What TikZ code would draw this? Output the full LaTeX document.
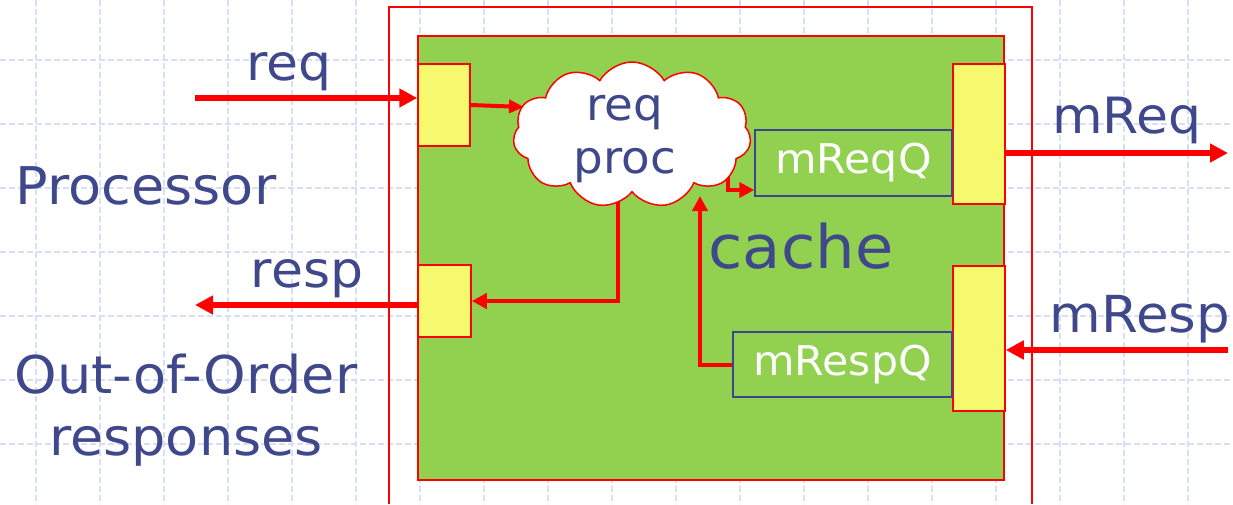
\documentclass[tikz,border=0pt]{standalone}
\usepackage{fontspec}
\setmainfont{DejaVu Sans}[FakeStretch=1.04]
\usetikzlibrary{shapes.symbols,arrows.meta}

\pgfdeclarelayer{back}
\pgfdeclarelayer{wires}
\pgfsetlayers{back,wires,main}

\definecolor{labelblue}{RGB}{64,72,140}
\definecolor{gridblue}{RGB}{214,222,248}
\definecolor{cachegreen}{RGB}{146,208,80}
\definecolor{portyellow}{RGB}{246,248,110}
\definecolor{qborder}{RGB}{60,70,140}

\tikzset{
  gridline/.style={gridblue, line width=1.1pt, dash pattern=on 6pt off 3pt},
  cachebox/.style={draw=red, fill=cachegreen, line width=1.5pt, inner sep=0pt},
  port/.style={draw=red, fill=portyellow, line width=1.5pt, inner sep=0pt},
  queue/.style={draw=qborder, line width=1.5pt, inner sep=0pt, text=white,
    font=\fontsize{41}{49}\selectfont},
  proccloud/.style={cloud, cloud puffs=11, cloud puff arc=120, aspect=1.63,
    draw=red, fill=white, line width=1.5pt, inner sep=0pt},
  cloudtext/.style={align=center, inner sep=0pt, text=labelblue,
    font=\fontsize{45}{53}\selectfont},
  lbl/.style={text=labelblue, anchor=base, inner sep=0pt,
    font=\fontsize{50}{60}\selectfont},
  biglbl/.style={lbl, font=\fontsize{52}{62}\selectfont},
  bigarrow/.style={red, line width=5.5pt, -{Triangle[length=18pt,width=18pt]}},
  midarrow/.style={red, line width=4pt, -{Triangle[length=15pt,width=15pt]}},
}

\begin{document}
\begin{tikzpicture}[x=1pt,y=-1pt]
\useasboundingbox (0,0) rectangle (1233,504);

\begin{pgfonlayer}{back}
\fill[white] (0,0) rectangle (1233,504);
% background grid
\foreach \gx in {36,100,...,1188} \draw[gridline] (\gx,0) -- (\gx,504);
\foreach \gy in {60,124,...,444} \draw[gridline] (0,\gy) -- (1233,\gy);
% outer frame (open at the bottom edge)
\draw[red, line width=1.5pt] (389,504) -- (389,7) -- (1032,7) -- (1032,504);
% cache block
\node[cachebox, minimum width=586pt, minimum height=444pt] (cache) at (711,258) {};
\end{pgfonlayer}

\node[lbl, font=\fontsize{60}{72}\selectfont] (cachelbl) at (801,268) {cache};

% ports
\node[port, minimum width=52pt, minimum height=82pt]  (reqport)   at (444,105) {};
\node[port, minimum width=53pt, minimum height=72pt]  (respport)  at (444.5,301) {};
\node[port, minimum width=52pt, minimum height=140pt] (mreqport)  at (979,134) {};
\node[port, minimum width=52pt, minimum height=145pt] (mrespport) at (979,338.5) {};

% queues
\node[queue, minimum width=197pt, minimum height=66pt] (mreqq)  at (853.5,163) {mReqQ};
\node[queue, minimum width=219pt, minimum height=65pt] (mrespq) at (842.5,364.5) {mRespQ};

% request processing
\node[proccloud, minimum width=238pt, minimum height=146pt] (proc) at (632,135) {};
\node[cloudtext] (proctext) at (625,139) {req\\proc};

% outside endpoints
\coordinate (reqin)   at (195,98);
\coordinate (respout) at (195,305);
\coordinate (mreqout) at (1228,153);
\coordinate (mrespin) at (1228,350);

% external connections
\draw[bigarrow] (reqin) -- (reqport.west |- reqin);
\draw[bigarrow] (respport.west |- respout) -- (respout);
\draw[bigarrow] (mreqport.east |- mreqout) -- (mreqout);
\draw[bigarrow] (mrespin) -- (mrespport.east |- mrespin);

% internal connections into the cloud
\draw[red, line width=4pt, -{Triangle[length=15pt,width=13pt]}]
  (reqport.east) -- ([shift={(-108,-28)}]proc.center);
\draw[midarrow] (mrespq.west) -| ([shift={(68,61)}]proc.center);

% connections leaving the cloud start underneath its outline
\begin{pgfonlayer}{wires}
\draw[midarrow] ([shift={(96,25)}]proc.center) |- ([yshift=-27pt]mreqq.west);
\draw[midarrow] ([shift={(-14,63)}]proc.center) |- (respport.east);
\end{pgfonlayer}

% labels
\node[lbl] (reqlbl)   at (289,80)  {req};
\node[lbl] (resplbl)  at (307,287) {resp};
\node[lbl] (mreqlbl)  at (1127,133) {mReq};
\node[lbl, font=\fontsize{51}{61}\selectfont] (mresplbl) at (1140,332) {mResp};
\node[biglbl] (proclbl) at (146,204) {Processor};
\node[biglbl] (oool1) at (186,393) {Out-of-Order};
\node[biglbl] (oool2) at (186,455) {responses};
\end{tikzpicture}
\end{document}
